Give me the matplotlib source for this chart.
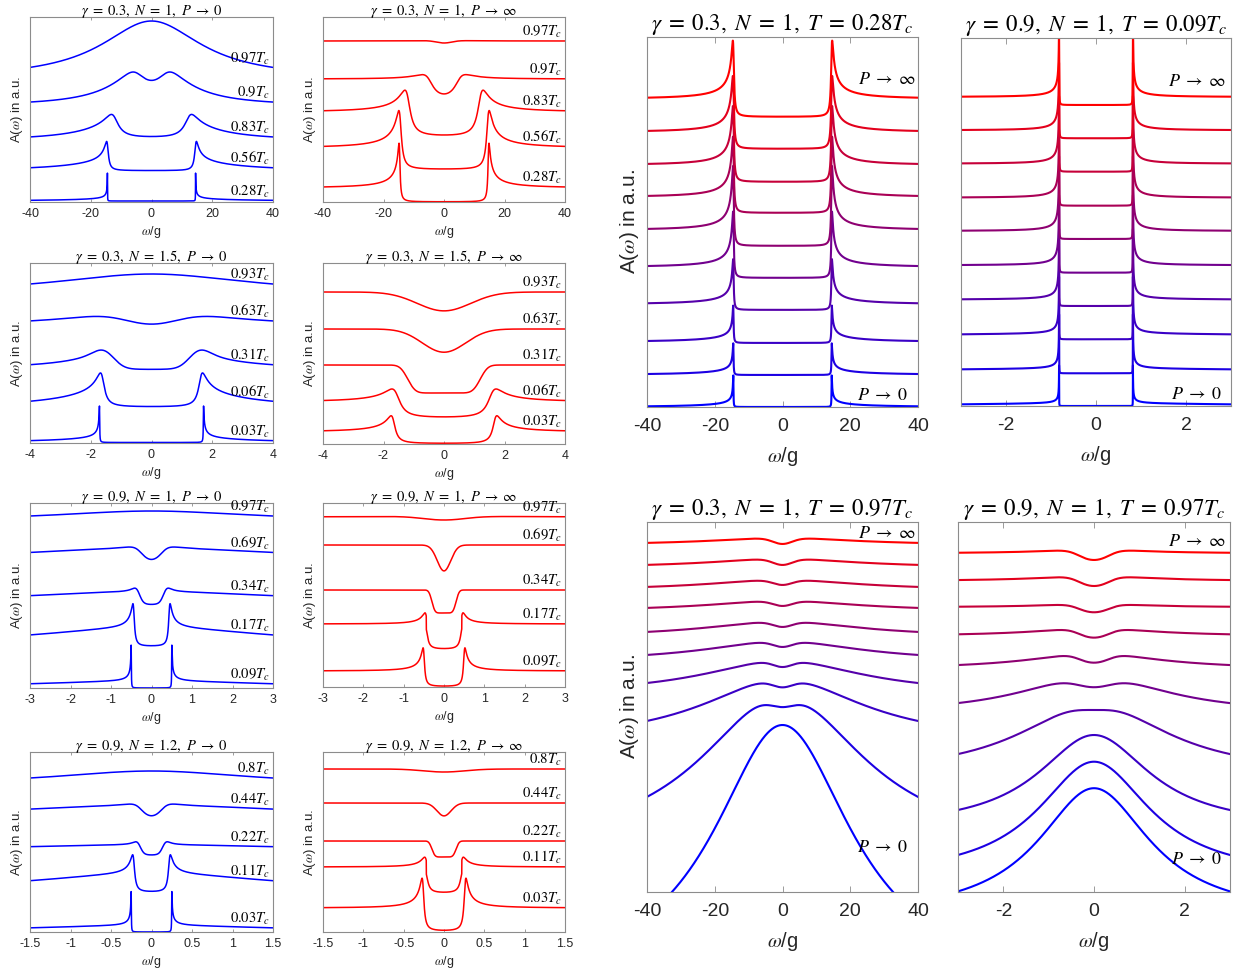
import numpy as np
import matplotlib
matplotlib.use('Agg')
import matplotlib.pyplot as plt

plt.rcParams['mathtext.fontset'] = 'stix'
plt.rcParams['axes.unicode_minus'] = False
plt.rcParams['font.family'] = ['Liberation Sans', 'DejaVu Sans']

# ======================= DATA (heights in a.u. above each panel floor) =======================
# Per curve: base level, weight, gap position, broadening, smearing, step share,
# envelope width, flat (non-decaying) share.  Curves listed bottom -> top.

# gamma=0.3, N=1, P->0
A_T    = ['0.28', '0.56', '0.83', '0.9', '0.97']
A_base = [1, 31, 61, 96, 123]
A_amp  = [3.0, 14, 28, 41, 58]
A_gap  = [14.5, 14.5, 12.3, 5.0, 0.0]
A_gam  = [0.025, 0.5, 2.0, 4.0, 1.0]
A_sig  = [0, 0, 0, 0, 0]
A_step = [0, 0, 0, 0, 0]
A_wid  = [21, 21, 16, 13, 20]
A_frac = [0, 0, 0, 0, 0]

# gamma=0.3, N=1, P->inf
B_T    = ['0.28', '0.56', '0.83', '0.9', '0.97']
B_base = [0, 32, 64, 96, 151]
B_amp  = [14, 22, 26, 27, 10]
B_gap  = [14.7, 14.5, 12.0, 5.0, 3.0]
B_gam  = [0.28, 0.7, 1.4, 2.5, 4.0]
B_sig  = [0, 0, 0, 0, 0]
B_step = [0, 0, 0, 0, 0]
B_wid  = [1, 1, 1, 1, 1]
B_frac = [1, 1, 1, 1, 1]

# gamma=0.3, N=1.5, P->0
C_T    = ['0.03', '0.06', '0.31', '0.63', '0.93']
C_base = [0.5, 35, 73, 112, 149]
C_amp  = [6.0, 22, 17.5, 14, 20]
C_gap  = [1.71, 1.62, 1.45, 1.0, 0.0]
C_gam  = [0.007, 0.11, 0.05, 0.05, 1.0]
C_sig  = [0, 0, 0.3, 0.8, 0]
C_step = [0, 0, 0, 0, 0]
C_wid  = [2.5, 2.5, 2.5, 6, 4]
C_frac = [0, 0, 0, 0, 0]

# gamma=0.3, N=1.5, P->inf
D_T    = ['0.03', '0.06', '0.31', '0.63', '0.93']
D_base = [0, 25, 51, 81, 117.5]
D_amp  = [12, 17, 28, 34, 34.5]
D_gap  = [1.68, 1.58, 1.2, 0.6, 0.6]
D_gam  = [0.11, 0.2, 0.05, 0.05, 0.05]
D_sig  = [0, 0.04, 0.2, 0.6, 0.8]
D_step = [0, 0, 1, 1, 1]
D_wid  = [1, 1, 1, 1, 1]
D_frac = [1, 1, 1, 1, 1]

# gamma=0.9, N=1, P->0
E_T    = ['0.09', '0.17', '0.34', '0.69', '0.97']
E_base = [0, 41, 82, 110, 167]
E_amp  = [6.8, 19, 14, 29, 10]
E_gap  = [0.5, 0.44, 0.32, 0.3, 0.0]
E_gam  = [0.004, 0.03, 0.05, 0.25, 1.0]
E_sig  = [0, 0, 0.06, 0, 0]
E_step = [0, 0, 0.3, 0, 0]
E_wid  = [3.8, 3.9, 5, 8, 3]
E_frac = [0, 0, 0, 0, 0]

# gamma=0.9, N=1, P->inf
F_T    = ['0.09', '0.17', '0.34', '0.69', '0.97']
F_base = [0, 37, 74, 97, 155]
F_amp  = [16, 26, 23, 45, 15]
F_gap  = [0.5, 0.44, 0.3, 0.12, 0.6]
F_gam  = [0.03, 0.05, 0.03, 0.05, 0.8]
F_sig  = [0, 0, 0.06, 0.15, 0]
F_step = [0, 0.5, 1, 1, 0]
F_wid  = [1, 1, 1, 1, 1]
F_frac = [1, 1, 1, 1, 1]

# gamma=0.9, N=1.2, P->0
G_T    = ['0.03', '0.11', '0.22', '0.44', '0.8']
G_base = [0, 39, 76, 100, 147]
G_amp  = [6.4, 19, 11, 26, 14]
G_gap  = [0.25, 0.22, 0.15, 0.15, 0.0]
G_gam  = [0.002, 0.02, 0.02, 0.12, 1.0]
G_sig  = [0, 0, 0.03, 0, 0]
G_step = [0, 0, 0.3, 0, 0]
G_wid  = [2, 2, 3.5, 4, 1.5]
G_frac = [0, 0, 0, 0, 0]

# gamma=0.9, N=1.2, P->inf
H_T    = ['0.03', '0.11', '0.22', '0.44', '0.8']
H_base = [0, 38, 75, 105.4, 153.3]
H_amp  = [24, 27, 16, 23.6, 9.7]
H_gap  = [0.26, 0.22, 0.15, 0.06, 0.1]
H_gam  = [0.019, 0.03, 0.015, 0.05, 0.05]
H_sig  = [0, 0, 0.03, 0.08, 0.25]
H_step = [0, 0.5, 1, 1, 1]
H_wid  = [1, 1, 1, 1, 1]
H_frac = [1, 1, 1, 1, 1]

# big panels: 10 pumping rates from P->0 (bottom) to P->inf (top)
# gamma=0.3, N=1, T=0.28Tc
I_base = [0, 32, 64, 97, 129, 161, 194, 225, 258, 290]
I_amp  = [8, 10, 12, 14, 16, 17, 17, 17, 17, 18]
I_gap  = [14.5] * 10
I_gam  = [0.05, 0.08, 0.1, 0.15, 0.18, 0.2, 0.22, 0.24, 0.26, 0.27]
I_wid  = [12] * 10
I_frac = [0, 0.01, 0.08, 0.4, 0.67, 0.93, 0.93, 0.99, 0.99, 1.0]

# gamma=0.9, N=1, T=0.09Tc
J_base = [0, 32.7, 66.7, 100, 133.3, 167, 200.3, 234.3, 267.7, 301]
J_amp  = [2.6, 4.5, 5.5, 6.7, 7.5, 8, 8, 8, 8, 8]
J_gap  = [0.82] * 10
J_gam  = [0.001, 0.0015, 0.002, 0.002, 0.0025, 0.0025, 0.003, 0.003, 0.003, 0.003]
J_wid  = [3.8] * 10
J_frac = [0, 0.61, 0.66, 0.9, 0.97, 1, 1, 1, 1, 1]

# gamma=0.3, N=1, T=0.97Tc
K_base = [-98, 38.8, 148.3, 193.5, 216.9, 238.2, 260.4, 281.4, 296, 317.5]
K_amp  = [265, 156, 63, 36.7, 32.8, 31.3, 29.9, 29.9, 36.2, 35.6]
K_gap  = [0, 3, 3, 3, 3, 3, 3, 3, 3, 3]
K_gam  = [1, 8, 6, 5, 5, 5, 5, 5, 5, 5]
K_wid  = [25, 30, 30, 30, 30, 30, 30, 30, 30, 30]
K_frac = [0, 0, 0, 0.095, 0.395, 0.527, 0.672, 0.672, 0.777, 0.821]

# gamma=0.9, N=1, T=0.97Tc
L_base = [-25.2, 13.7, 63.25, 116.2, 149.2, 212.2, 237.1, 264.3, 287.4, 312.5]
L_amp  = [129, 116.6, 93.75, 70.3, 64, 24.2, 24.4, 21.8, 26.3, 27.6]
L_gap  = [0, 0, 0, 0.3, 0.4, 0.4, 0.4, 0.4, 0.4, 0.4]
L_gam  = [1, 1, 1, 0.8, 0.7, 0.4, 0.4, 0.4, 0.4, 0.4]
L_wid  = [1.5, 1.5, 1.5, 2, 2, 2, 2, 2, 2, 2]
L_frac = [0, 0, 0, 0, 0.445, 0.429, 0.764, 0.934, 0.893, 0.944]

# ======================= MODEL =======================
def dynes(x, gap, gam):
    if gap <= 0:
        return np.ones_like(x)
    z = x + 1j * gam
    return np.abs(np.real(z / np.sqrt(z * z - gap ** 2)))


def smear(y, dx, s):
    n = len(y)
    m = 2 * n
    Y = np.fft.rfft(y, m)
    f = np.fft.rfftfreq(m, dx)
    return np.fft.irfft(Y * np.exp(-2 * (np.pi * f * s) ** 2), m)[:n]


def spectrum(x, base, amp, gap, gam, sig, step, wid, frac):
    s = (1 - step) * dynes(x, gap, gam) + step * (np.abs(x) > gap).astype(float)
    if sig > 0:
        s = smear(s, x[1] - x[0], sig)
    env = frac + (1 - frac) / (1 + (x / wid) ** 2)
    return base + amp * s * env


BOX = '#8c8c8c'
TXT = '#262626'
W, H = 1242.0, 976.0


def style(ax, xmax, ticks, fs, ticklen, pad):
    ax.set_xlim(-xmax, xmax)
    ax.set_xticks(ticks)
    ax.set_xticklabels([f'{t:g}' for t in ticks])
    ax.set_yticks([])
    ax.tick_params(axis='x', direction='in', top=True, bottom=True, length=ticklen,
                   width=0.6, color=BOX, labelsize=fs, labelcolor=TXT, pad=pad)
    for s in ax.spines.values():
        s.set_color(BOX)
        s.set_linewidth(0.8)


def box(px_l, px_t, px_r, px_b):
    return [px_l / W, 1 - px_b / H, (px_r - px_l) / W, (px_b - px_t) / H]


def small_title(g, n, p):
    return rf'$\gamma\;=\;{g},\ N\;=\;{n},\ P\;\rightarrow\;{p}$'


def big_title(g, t):
    return rf'$\gamma\;=\;{g},\ N\;=\;1,\ T\;=\;{t}T_c$'


fig = plt.figure(figsize=(12.42, 9.76), dpi=100)

small = [
    (box(30, 17, 273, 202), 185, 40, [-40, -20, 0, 20, 40], small_title('0.3', '1', '0'), 'blue',
     A_T, A_base, A_amp, A_gap, A_gam, A_sig, A_step, A_wid, A_frac),
    (box(323, 17, 565, 202), 185, 40, [-40, -20, 0, 20, 40], small_title('0.3', '1', r'\infty'), 'red',
     B_T, B_base, B_amp, B_gap, B_gam, B_sig, B_step, B_wid, B_frac),
    (box(30, 263, 273, 443), 180, 4, [-4, -2, 0, 2, 4], small_title('0.3', '1.5', '0'), 'blue',
     C_T, C_base, C_amp, C_gap, C_gam, C_sig, C_step, C_wid, C_frac),
    (box(323, 263, 565, 444), 181, 4, [-4, -2, 0, 2, 4], small_title('0.3', '1.5', r'\infty'), 'red',
     D_T, D_base, D_amp, D_gap, D_gam, D_sig, D_step, D_wid, D_frac),
    (box(30, 503, 273, 688), 185, 3, [-3, -2, -1, 0, 1, 2, 3], small_title('0.9', '1', '0'), 'blue',
     E_T, E_base, E_amp, E_gap, E_gam, E_sig, E_step, E_wid, E_frac),
    (box(323, 503, 565, 687), 184, 3, [-3, -2, -1, 0, 1, 2, 3], small_title('0.9', '1', r'\infty'), 'red',
     F_T, F_base, F_amp, F_gap, F_gam, F_sig, F_step, F_wid, F_frac),
    (box(30, 752, 273, 932), 180, 1.5, [-1.5, -1, -0.5, 0, 0.5, 1, 1.5], small_title('0.9', '1.2', '0'), 'blue',
     G_T, G_base, G_amp, G_gap, G_gam, G_sig, G_step, G_wid, G_frac),
    (box(323, 752, 565, 932), 180, 1.5, [-1.5, -1, -0.5, 0, 0.5, 1, 1.5], small_title('0.9', '1.2', r'\infty'), 'red',
     H_T, H_base, H_amp, H_gap, H_gam, H_sig, H_step, H_wid, H_frac),
]

for (rect, ytop, xmax, ticks, title, color, T, base, amp, gap, gam, sig, step, wid, frac) in small:
    ax = fig.add_axes(rect)
    lim = 1.3 * xmax + 6 * max(sig)
    x = np.linspace(-lim, lim, 40001)
    for i in range(len(T)):
        y = spectrum(x, base[i], amp[i], gap[i], gam[i], sig[i], step[i], wid[i], frac[i])
        ax.plot(x, y, color=color, lw=1.1)
        yend = np.interp(xmax, x, y)
        ax.annotate(rf'${T[i]}T_c$', xy=(xmax, yend), xytext=(-2, 0.5), textcoords='offset points',
                    ha='right', va='bottom', fontsize=10.5, annotation_clip=False)
    ax.set_ylim(0, ytop)
    style(ax, xmax, ticks, 9, 2.2, 4.0)
    ax.set_title(title, fontsize=10.5, pad=1.5)
    ax.set_xlabel(r'$\omega$/g', fontsize=9, color=TXT, labelpad=3)
    ax.set_ylabel(r'A($\omega$) in a.u.', fontsize=9.5, color=TXT, labelpad=3.5)

big = [
    (box(647, 37, 918, 407), 370, 40, [-40, -20, 0, 20, 40], big_title('0.3', '0.28'), True,
     I_base, I_amp, I_gap, I_gam, I_wid, I_frac, (0.989, 0.884), (0.963, 0.032)),
    (box(961, 38, 1231, 406), 368, 3, [-2, 0, 2], big_title('0.9', '0.09'), False,
     J_base, J_amp, J_gap, J_gam, J_wid, J_frac, (0.978, 0.883), (0.965, 0.03)),
    (box(647, 522, 918, 892), 370, 40, [-40, -20, 0, 20, 40], big_title('0.3', '0.97'), True,
     K_base, K_amp, K_gap, K_gam, K_wid, K_frac, (0.989, 0.97), (0.963, 0.12)),
    (box(958, 522, 1230, 892), 370, 3, [-2, 0, 2], big_title('0.9', '0.97'), False,
     L_base, L_amp, L_gap, L_gam, L_wid, L_frac, (0.982, 0.946), (0.969, 0.089)),
]

for (rect, ytop, xmax, ticks, title, ylab, base, amp, gap, gam, wid, frac, pinf, p0) in big:
    ax = fig.add_axes(rect)
    lim = 1.3 * xmax
    x = np.linspace(-lim, lim, 40001)
    n = len(base)
    for i in range(n):
        t = i / (n - 1)
        y = spectrum(x, base[i], amp[i], gap[i], gam[i], 0, 0, wid[i], frac[i])
        ax.plot(x, y, color=(t, 0, 1 - t), lw=1.5)
    ax.set_ylim(0, ytop)
    style(ax, xmax, ticks, 14, 4, 8)
    ax.set_title(title, fontsize=16.5, pad=5)
    ax.set_xlabel(r'$\omega$/g', fontsize=14.5, color=TXT, labelpad=7)
    if ylab:
        ax.set_ylabel(r'A($\omega$) in a.u.', fontsize=15, color=TXT, labelpad=4)
    ax.text(pinf[0], pinf[1], r'$P\;\rightarrow\;\infty$', transform=ax.transAxes,
            ha='right', va='center', fontsize=13)
    ax.text(p0[0], p0[1], r'$P\;\rightarrow\;0$', transform=ax.transAxes,
            ha='right', va='center', fontsize=13)

fig.savefig('out.png', dpi=100)
